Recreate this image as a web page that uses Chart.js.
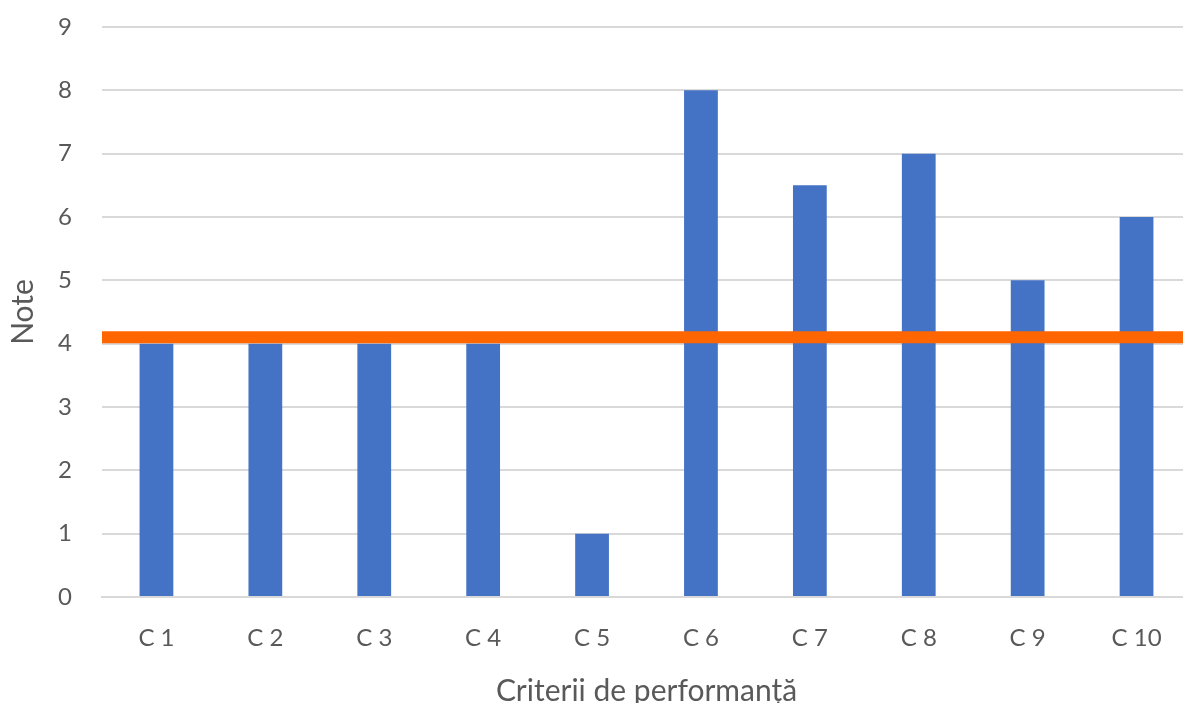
<!DOCTYPE html>
<html>
<head>
<meta charset="utf-8">
<script src="https://cdn.jsdelivr.net/npm/chart.js@4"></script>
<style>
  html, body { margin: 0; padding: 0; background: #fff; overflow: hidden; }
  #wrap { position: absolute; left: 0; top: 0; width: 1200px; height: 720px; }
</style>
</head>
<body>
<div id="wrap"><canvas id="noteChart"></canvas></div>
<script>
// Datele graficului
const criterii = ['C 1', 'C 2', 'C 3', 'C 4', 'C 5', 'C 6', 'C 7', 'C 8', 'C 9', 'C 10'];
const note = [4, 4, 4, 4, 1, 8, 6.5, 7, 5, 6];
const pragNote = [4.1, 4.1];
const yTicks = [0, 1, 2, 3, 4, 5, 6, 7, 8, 9];

// Linia de prag merge de la o margine la alta a zonei graficului
const pragPuncte = pragNote.map((v, i) => ({ x: i * criterii.length, y: v }));

const gri = '#595959';
const fontFam = 'Lato, "DejaVu Sans", sans-serif';

new Chart(document.getElementById('noteChart'), {
  data: {
    labels: criterii,
    datasets: [
      {
        type: 'line',
        label: 'Prag',
        data: pragPuncte,
        xAxisID: 'x2',
        borderColor: '#FF6600',
        borderWidth: 12,
        pointRadius: 0,
        order: 0,
      },
      {
        type: 'bar',
        label: 'Note',
        data: note,
        backgroundColor: '#4472C4',
        grouped: false,
        categoryPercentage: 1,
        barPercentage: 0.31,
        order: 1,
      },
    ],
  },
  options: {
    responsive: true,
    maintainAspectRatio: false,
    animation: false,
    layout: { padding: { top: 27, right: 9, left: 0, bottom: 0 } },
    plugins: { legend: { display: false }, tooltip: { enabled: false } },
    scales: {
      x: {
        grid: { display: false, drawTicks: false },
        border: { display: true, color: '#D9D9D9', width: 2 },
        ticks: { color: gri, padding: 27, font: { family: fontFam, size: 24 } },
        title: {
          display: true,
          text: 'Criterii de performanță',
          color: gri,
          font: { family: fontFam, size: 30 },
          padding: { top: 0, bottom: 11 },
        },
        afterFit: (scale) => { scale.height = 123; },
      },
      x2: {
        type: 'linear',
        display: false,
        min: 0,
        max: criterii.length,
      },
      y: {
        min: yTicks[0],
        max: yTicks[yTicks.length - 1],
        afterBuildTicks: (scale) => { scale.ticks = yTicks.map((v) => ({ value: v })); },
        grid: { color: '#D9D9D9', lineWidth: 2, drawTicks: false },
        border: { display: false },
        ticks: { color: gri, padding: 30, font: { family: fontFam, size: 24 } },
        title: {
          display: true,
          text: 'Note',
          color: gri,
          font: { family: fontFam, size: 30 },
          padding: { top: 5, bottom: 0 },
        },
        afterFit: (scale) => {
          scale.width = 102;
          scale.paddingTop = 0;
          scale.paddingBottom = 0;
        },
      },
    },
  },
});
</script>
</body>
</html>
